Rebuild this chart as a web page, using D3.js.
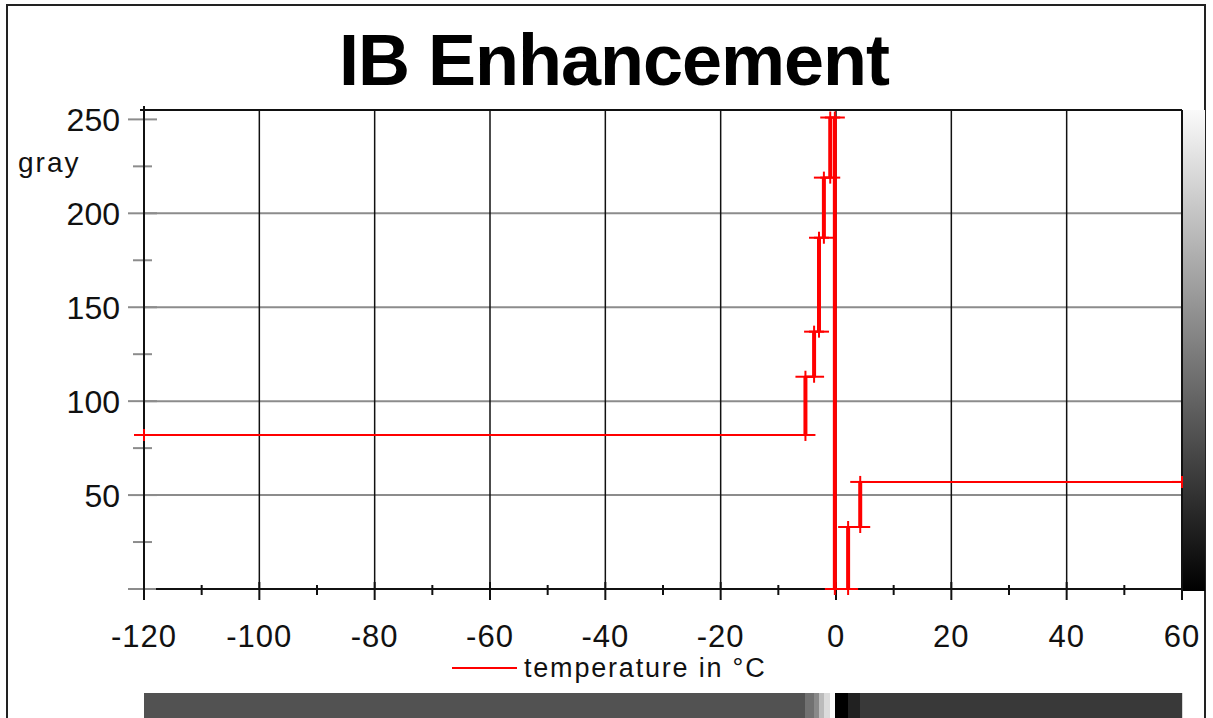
<!DOCTYPE html>
<html>
<head>
<meta charset="utf-8">
<script src="https://cdn.jsdelivr.net/npm/d3@7"></script>
<style>
  body { margin: 0; background: #fff; }
  svg { display: block; font-family: "Liberation Sans", Arial, sans-serif; }
</style>
</head>
<body>
<svg width="1213" height="718"></svg>
<script>
// Data: enhancement curve, temperature (°C) -> gray value
var tempPoints = [-120, -5.3, -5.3, -3.8, -3.8, -2.95, -2.95, -2.1, -2.1, -1.0, -1.0, -0.2, -0.2, 2.1, 2.1, 4.2, 4.2, 60];
var grayPoints = [82, 82, 113, 113, 137, 137, 187, 187, 219, 219, 251, 251, 0, 0, 33, 33, 57, 57];

var xMajorTicks = [-120, -100, -80, -60, -40, -20, 0, 20, 40, 60];
var xMinorTicks = [-110, -90, -70, -50, -30, -10, 10, 30, 50];
var yMajorTicks = [0, 50, 100, 150, 200, 250];
var yMinorTicks = [25, 75, 125, 175, 225];
var yGrid = [50, 100, 150, 200];

var svg = d3.select("svg");

var x = d3.scaleLinear().domain([-120, 60]).range([144, 1182]);
var y = d3.scaleLinear().domain([0, 255]).range([589, 110]);

// Outer frame
svg.append("path")
  .attr("d", "M7,718 V5 H1205 V718")
  .attr("fill", "none")
  .attr("stroke", "#222")
  .attr("stroke-width", 2);

// Title
svg.append("text")
  .attr("x", 614).attr("y", 85)
  .attr("text-anchor", "middle")
  .attr("font-size", 72).attr("font-weight", "bold")
  .attr("letter-spacing", -1)
  .text("IB Enhancement");

// Horizontal grid (gray)
svg.selectAll(".hgrid").data(yGrid).enter().append("line")
  .attr("x1", x(-120)).attr("x2", x(60))
  .attr("y1", function(d) { return y(d); }).attr("y2", function(d) { return y(d); })
  .attr("stroke", "#8c8c8c").attr("stroke-width", 2);

// Vertical grid (black)
svg.selectAll(".vgrid").data(xMajorTicks.slice(1, -1)).enter().append("line")
  .attr("x1", function(d) { return x(d); }).attr("x2", function(d) { return x(d); })
  .attr("y1", y(255)).attr("y2", y(0))
  .attr("stroke", "#111").attr("stroke-width", 1.5);

// Top and right border
svg.append("line").attr("x1", x(-120) - 4).attr("x2", x(60))
  .attr("y1", y(255)).attr("y2", y(255))
  .attr("stroke", "#111").attr("stroke-width", 2);
svg.append("line").attr("x1", x(60)).attr("x2", x(60))
  .attr("y1", y(255)).attr("y2", 600)
  .attr("stroke", "#111").attr("stroke-width", 2);

// Y ticks
svg.selectAll(".ymaj").data(yMajorTicks).enter().append("line")
  .attr("x1", 128).attr("x2", 157)
  .attr("y1", function(d) { return y(d); }).attr("y2", function(d) { return y(d); })
  .attr("stroke", "#8c8c8c").attr("stroke-width", 2);
svg.selectAll(".ymin").data(yMinorTicks).enter().append("line")
  .attr("x1", 133).attr("x2", 152)
  .attr("y1", function(d) { return y(d); }).attr("y2", function(d) { return y(d); })
  .attr("stroke", "#8c8c8c").attr("stroke-width", 2);
svg.selectAll(".ylab").data(yMajorTicks.slice(1)).enter().append("text")
  .attr("x", 120)
  .attr("y", function(d) { return y(d) + 12; })
  .attr("text-anchor", "end")
  .attr("font-size", 32).attr("fill", "#111")
  .text(function(d) { return d; });

// Y axis line
svg.append("line").attr("x1", x(-120)).attr("x2", x(-120))
  .attr("y1", 106).attr("y2", 600)
  .attr("stroke", "#111").attr("stroke-width", 2);

svg.append("text")
  .attr("x", 18).attr("y", 172)
  .attr("font-size", 28).attr("letter-spacing", 2).attr("fill", "#111")
  .text("gray");

// X axis
svg.append("line").attr("x1", x(-120) + 12).attr("x2", x(60))
  .attr("y1", y(0)).attr("y2", y(0))
  .attr("stroke", "#111").attr("stroke-width", 2);
svg.selectAll(".xmaj").data(xMajorTicks).enter().append("line")
  .attr("x1", function(d) { return x(d); }).attr("x2", function(d) { return x(d); })
  .attr("y1", 582).attr("y2", 600)
  .attr("stroke", "#111").attr("stroke-width", 2);
svg.selectAll(".xmin").data(xMinorTicks).enter().append("line")
  .attr("x1", function(d) { return x(d); }).attr("x2", function(d) { return x(d); })
  .attr("y1", 585).attr("y2", 595)
  .attr("stroke", "#111").attr("stroke-width", 2);
svg.selectAll(".xlab").data(xMajorTicks).enter().append("text")
  .attr("x", function(d) { return x(d); })
  .attr("y", 647)
  .attr("text-anchor", "middle")
  .attr("font-size", 31).attr("letter-spacing", 1).attr("fill", "#111")
  .text(function(d) { return d; });

// Curve
var pts = tempPoints.map(function(t, i) { return [t, grayPoints[i]]; });
var segs = d3.pairs(pts);
svg.selectAll(".seg").data(segs).enter().append("line")
  .attr("x1", function(d) { return x(d[0][0]); }).attr("y1", function(d) { return y(d[0][1]); })
  .attr("x2", function(d) { return x(d[1][0]); }).attr("y2", function(d) { return y(d[1][1]); })
  .attr("stroke", "#ff0000")
  .attr("stroke-width", function(d) { return d[0][0] === d[1][0] ? 4 : 2; });

var mk = svg.selectAll(".mk").data(pts).enter().append("g")
  .attr("transform", function(d) { return "translate(" + x(d[0]) + "," + y(d[1]) + ")"; });
mk.append("line").attr("x1", -10).attr("x2", 10).attr("y1", 0).attr("y2", 0)
  .attr("stroke", "#ff0000").attr("stroke-width", 2);
mk.append("line").attr("x1", 0).attr("x2", 0).attr("y1", -6).attr("y2", 6)
  .attr("stroke", "#ff0000").attr("stroke-width", 2);

// Legend
svg.append("line").attr("x1", 452).attr("x2", 517).attr("y1", 668).attr("y2", 668)
  .attr("stroke", "#ff0000").attr("stroke-width", 2);
svg.append("text")
  .attr("x", 524).attr("y", 677)
  .attr("font-size", 27).attr("letter-spacing", 1.8).attr("fill", "#111")
  .text("temperature in °C");

// Right gray scale bar
var grad = svg.append("defs").append("linearGradient")
  .attr("id", "gscale").attr("x1", 0).attr("x2", 0).attr("y1", 0).attr("y2", 1);
grad.append("stop").attr("offset", 0).attr("stop-color", "#fafafa");
grad.append("stop").attr("offset", 1).attr("stop-color", "#000");
svg.append("rect")
  .attr("x", x(60) + 1).attr("y", y(255))
  .attr("width", 22).attr("height", y(0) - y(255) + 2)
  .attr("fill", "url(#gscale)");

// Bottom bar: gray value of the curve at each temperature
function grayAt(t) {
  var g = grayPoints[0];
  for (var i = 0; i < pts.length - 1; i++) {
    var a = pts[i], b = pts[i + 1];
    if (a[0] !== b[0] && t >= a[0] && t <= b[0]) g = a[1];
  }
  return g;
}
var cols = d3.range(Math.round(x(-120)), Math.round(x(60)));
svg.selectAll(".bar").data(cols).enter().append("rect")
  .attr("x", function(d) { return d; })
  .attr("y", 693).attr("width", 1.2).attr("height", 25)
  .attr("fill", function(d) { var g = grayAt(x.invert(d + 0.5)); return d3.rgb(g, g, g); });
</script>
</body>
</html>
